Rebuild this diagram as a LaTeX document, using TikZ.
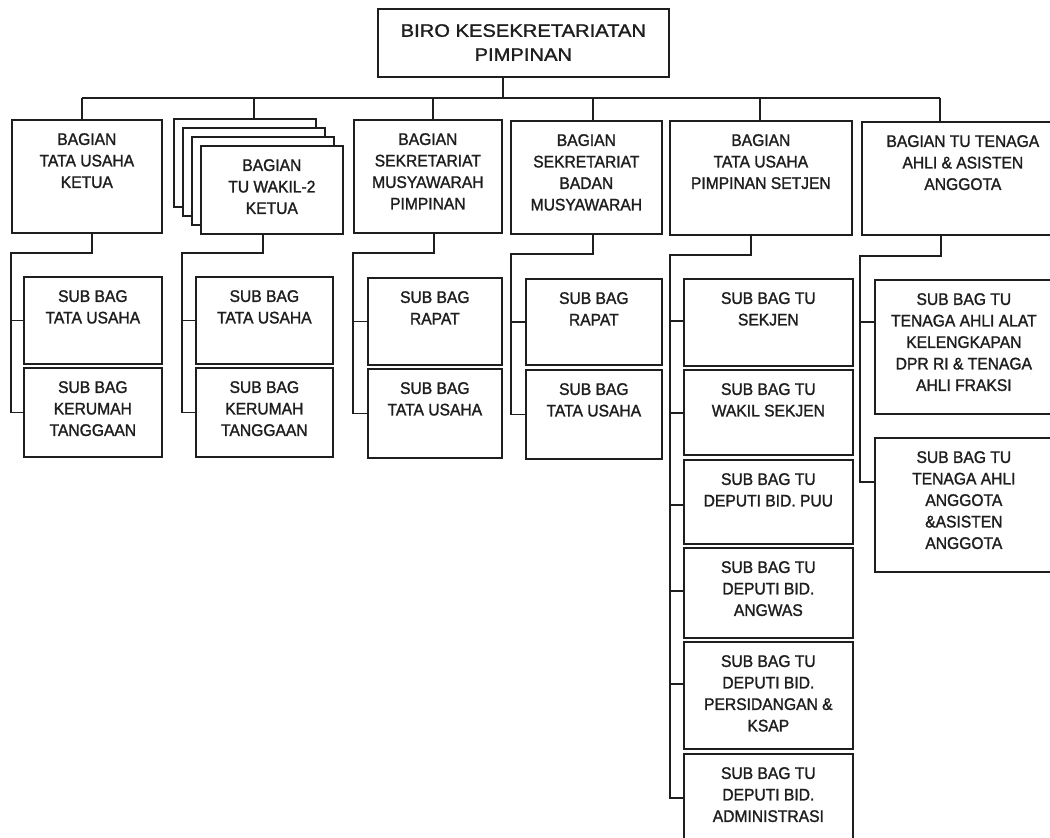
\documentclass[tikz,border=0pt]{standalone}
\usepackage{fontspec}
\setmainfont{Liberation Sans}
\newfontfamily\bodyf[FakeStretch=0.93,FakeBold=1.4]{Liberation Sans}
\newfontfamily\headf[FakeStretch=1.12,FakeBold=1.4]{Liberation Sans}
\definecolor{ink}{HTML}{1E1E1E}
\tikzset{
  box/.style={draw=ink, line width=1.7pt, fill=white, inner sep=0pt, rectangle},
  lbl/.style={anchor=north, align=center, inner sep=0pt, text=ink, font=\bodyf\fontsize{16.8}{21.5}\selectfont},
  headlbl/.style={anchor=north, align=center, inner sep=0pt, text=ink, font=\headf\fontsize{18}{24}\selectfont},
  wire/.style={draw=ink, line width=1.7pt},
}
\newcommand{\orgbox}[6]{%
  \node[box, anchor=north west, minimum width={(#4-#2)*1pt}, minimum height={(#5-#3)*1pt}] (#1) at (#2,#3) {};
  \node[lbl] (#1t) at ([yshift=-14pt]#1.north) {#6};}
\begin{document}
\begin{tikzpicture}[x=1pt,y=-1pt]
\fill[white] (0,0) rectangle (1050,838);
\useasboundingbox (0,0) rectangle (1050,838);

% top
\node[box, anchor=north west, minimum width=291pt, minimum height=68pt] (top) at (377,8) {};
\node[headlbl] (topt) at ([yshift=-16pt]top.north) {BIRO KESEKRETARIATAN\\PIMPINAN};

% level 1
\orgbox{b1}{11}{119}{161}{232}{BAGIAN\\TATA USAHA\\KETUA}
\node[box, anchor=north west, minimum width=142pt, minimum height=88pt] (b2a) at (173,118) {};
\node[box, anchor=north west, minimum width=142pt, minimum height=88pt] (b2b) at (182,127) {};
\node[box, anchor=north west, minimum width=142pt, minimum height=88pt] (b2c) at (191,136) {};
\orgbox{b2}{200}{145}{342}{233}{BAGIAN\\TU WAKIL-2\\KETUA}
\orgbox{b3}{353}{119}{501}{232}{BAGIAN\\SEKRETARIAT\\MUSYAWARAH\\PIMPINAN}
\orgbox{b4}{510}{120}{661}{233}{BAGIAN\\SEKRETARIAT\\BADAN\\MUSYAWARAH}
\orgbox{b5}{669}{120}{851}{234}{BAGIAN\\TATA USAHA\\PIMPINAN SETJEN}
\orgbox{b6}{861}{121}{1063}{234}{BAGIAN TU TENAGA\\AHLI \& ASISTEN\\ANGGOTA}

% level 2
\orgbox{s11}{23}{276}{161}{363}{SUB BAG\\TATA USAHA}
\orgbox{s12}{23}{367}{161}{456}{SUB BAG\\KERUMAH\\TANGGAAN}
\orgbox{s21}{195}{276}{332}{363}{SUB BAG\\TATA USAHA}
\orgbox{s22}{195}{367}{332}{456}{SUB BAG\\KERUMAH\\TANGGAAN}
\orgbox{s31}{367}{277}{501}{364}{SUB BAG\\RAPAT}
\orgbox{s32}{367}{368}{501}{457}{SUB BAG\\TATA USAHA}
\orgbox{s41}{525}{278}{661}{364}{SUB BAG\\RAPAT}
\orgbox{s42}{525}{369}{661}{458}{SUB BAG\\TATA USAHA}
\orgbox{s51}{683}{278}{852}{365}{SUB BAG TU\\SEKJEN}
\orgbox{s52}{683}{369}{852}{454}{SUB BAG TU\\WAKIL SEKJEN}
\orgbox{s53}{683}{459}{852}{543}{SUB BAG TU\\DEPUTI BID. PUU}
\orgbox{s54}{683}{547}{852}{637}{SUB BAG TU\\DEPUTI BID.\\ANGWAS}
\orgbox{s55}{683}{641}{852}{748}{SUB BAG TU\\DEPUTI BID.\\PERSIDANGAN \&\\KSAP}
\orgbox{s56}{683}{753}{852}{845}{SUB BAG TU\\DEPUTI BID.\\ADMINISTRASI}
\orgbox{s61}{874}{279}{1052}{413}{SUB BAG TU\\TENAGA AHLI ALAT\\KELENGKAPAN\\DPR RI \& TENAGA\\AHLI FRAKSI}
\orgbox{s62}{874}{437}{1052}{571}{SUB BAG TU\\TENAGA AHLI\\ANGGOTA\\\&ASISTEN\\ANGGOTA}

% level-1 bus
\coordinate (j0) at (503,98);
\coordinate (d1) at (82,98);
\coordinate (d2) at (254,98);
\coordinate (d3) at (433,98);
\coordinate (d4) at (593,98);
\coordinate (d5) at (760,98);
\coordinate (d6) at (940,98);
\draw[wire] (top.south -| j0) -- (j0);
\draw[wire] (d1) -- (d6);
\draw[wire] (d1) -- (d1 |- b1.north);
\draw[wire] (d2) -- (d2 |- b2a.north);
\draw[wire] (d3) -- (d3 |- b3.north);
\draw[wire] (d4) -- (d4 |- b4.north);
\draw[wire] (d5) -- (d5 |- b5.north);
\draw[wire] (d6) -- (d6 |- b6.north);

% column 1
\coordinate (e1) at (92,253);
\coordinate (k1) at (11,253);
\draw[wire] (b1.south -| e1) -- (e1) -- (k1) -- (k1 |- s12.west) -- (s12.west);
\draw[wire] (k1 |- s11.west) -- (s11.west);
% column 2
\coordinate (e2) at (263,253);
\coordinate (k2) at (182,253);
\draw[wire] (b2.south -| e2) -- (e2) -- (k2) -- (k2 |- s22.west) -- (s22.west);
\draw[wire] (k2 |- s21.west) -- (s21.west);
% column 3
\coordinate (e3) at (434,253);
\coordinate (k3) at (353,253);
\draw[wire] (b3.south -| e3) -- (e3) -- (k3) -- (k3 |- s32.west) -- (s32.west);
\draw[wire] (k3 |- s31.west) -- (s31.west);
% column 4
\coordinate (e4) at (593,254);
\coordinate (k4) at (511,254);
\draw[wire] (b4.south -| e4) -- (e4) -- (k4) -- (k4 |- s42.west) -- (s42.west);
\draw[wire] (k4 |- s41.west) -- (s41.west);
% column 5
\coordinate (e5) at (751,255);
\coordinate (k5) at (670,255);
\coordinate (r51) at (670,321);
\coordinate (r52) at (670,413);
\coordinate (r53) at (670,505);
\coordinate (r54) at (670,591);
\coordinate (r55) at (670,684);
\coordinate (r56) at (670,798);
\draw[wire] (b5.south -| e5) -- (e5) -- (k5) -- (r56) -- (r56 -| s56.west);
\draw[wire] (r51) -- (r51 -| s51.west);
\draw[wire] (r52) -- (r52 -| s52.west);
\draw[wire] (r53) -- (r53 -| s53.west);
\draw[wire] (r54) -- (r54 -| s54.west);
\draw[wire] (r55) -- (r55 -| s55.west);
% column 6
\coordinate (e6) at (941,256);
\coordinate (k6) at (860,256);
\coordinate (r61) at (860,322);
\coordinate (r62) at (860,482);
\draw[wire] (b6.south -| e6) -- (e6) -- (k6) -- (r62) -- (r62 -| s62.west);
\draw[wire] (r61) -- (r61 -| s61.west);
\end{tikzpicture}
\end{document}
